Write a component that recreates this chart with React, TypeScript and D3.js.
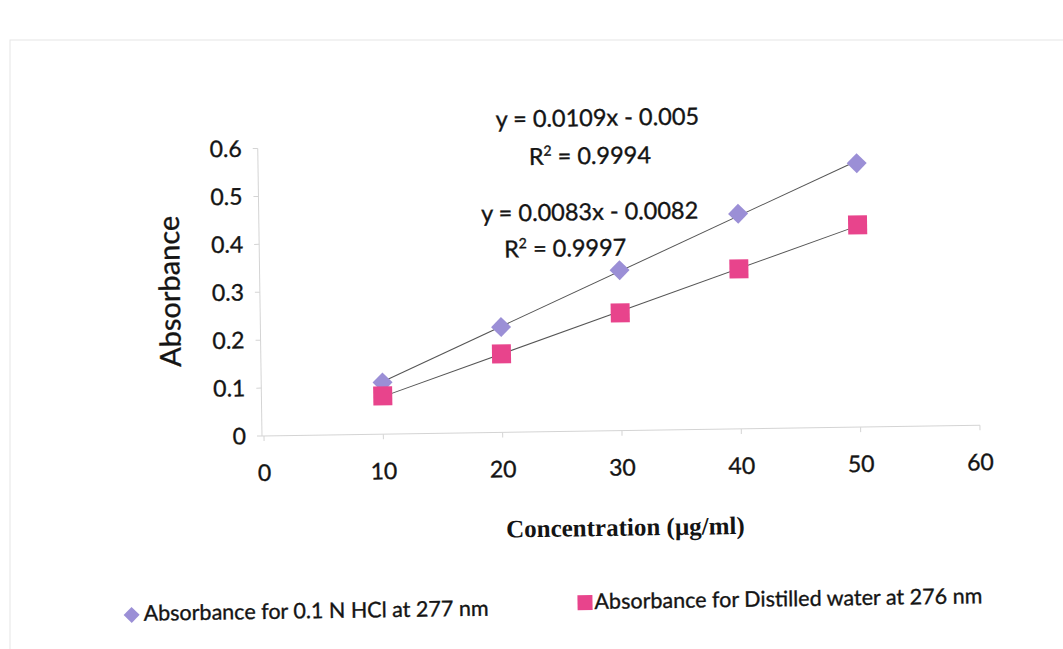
import React from "react";
import * as d3 from "d3";

const concentrations = [10, 20, 30, 40, 50];
const hclValues = [0.108, 0.22, 0.335, 0.449, 0.551];
const waterValues = [0.08, 0.164, 0.246, 0.334, 0.422];
const xTicks = [0, 10, 20, 30, 40, 50, 60];
const yTicks = [0, 0.1, 0.2, 0.3, 0.4, 0.5, 0.6];
const hclLabel = "Absorbance for 0.1 N HCl at 277 nm";
const waterLabel = "Absorbance for Distilled water at 276 nm";
const hclEq = "y = 0.0109x - 0.005";
const hclR2 = "0.9994";
const waterEq = "y = 0.0083x - 0.0082";
const waterR2 = "0.9997";
const xTitle = "Concentration (µg/ml)";
const yTitle = "Absorbance";

const HCL_COLOR = "#9b8fd6";
const WATER_COLOR = "#e8448c";
const FONT = "Lato, 'Open Sans', sans-serif";
const INK = "#141414";

function fit(xs: number[], ys: number[]) {
  const mx = d3.mean(xs)!;
  const my = d3.mean(ys)!;
  let num = 0, den = 0;
  xs.forEach((x, i) => { num += (x - mx) * (ys[i] - my); den += (x - mx) ** 2; });
  const m = num / den;
  return { m, b: my - m * mx };
}

function diamondPath(r: number) {
  const p = d3.path();
  p.moveTo(0, -r); p.lineTo(r, 0); p.lineTo(0, r); p.lineTo(-r, 0); p.closePath();
  return p.toString();
}

export default function App() {
  const W = 1063, H = 649;
  const ox = 262, oy = 436;
  const x = d3.scaleLinear().domain([0, 60]).range([264, 980]);
  const y = d3.scaleLinear().domain([0, 0.6]).range([oy, 148.5]);
  const line = d3.line<[number, number]>().x(d => x(d[0])).y(d => y(d[1]));
  const trend = (vals: number[]) => {
    const { m, b } = fit(concentrations, vals);
    const x0 = concentrations[0], x1 = concentrations[concentrations.length - 1];
    return line([[x0, m * x0 + b], [x1, m * x1 + b]] as [number, number][])!;
  };
  const sq = 19;
  const txt = { fontFamily: FONT, fill: INK, stroke: INK, strokeWidth: 0.35 } as const;
  return (
    <svg width={W} height={H} style={{ position: "absolute", left: 0, top: 0, background: "#fff" }}>
      <rect x={10} y={40} width={1060} height={620} fill="none" stroke="#e6e6e6" strokeWidth={1} />
      <g transform={`rotate(-0.85, ${ox}, ${oy})`}>
        <line x1={ox} x2={ox} y1={y(0.6)} y2={oy} stroke="#d4d4d4" strokeWidth={1} />
        <line x1={ox} x2={x(60)} y1={oy} y2={oy} stroke="#d4d4d4" strokeWidth={1} />
        {yTicks.map(t => (
          <line key={"yt" + t} x1={ox - 5} x2={ox} y1={y(t)} y2={y(t)} stroke="#d4d4d4" />
        ))}
        {xTicks.map(t => (
          <line key={"xt" + t} x1={x(t)} x2={x(t)} y1={oy} y2={oy + 5} stroke="#d4d4d4" />
        ))}
        {yTicks.map(t => (
          <text key={"yl" + t} x={246} y={y(t) + 8} textAnchor="end" fontSize={23} {...txt}>
            {t === 0 ? "0" : t.toFixed(1)}
          </text>
        ))}
        {xTicks.map(t => (
          <text key={"xl" + t} x={x(t)} y={481} textAnchor="middle" fontSize={23} {...txt}>
            {t}
          </text>
        ))}
        <text transform={`translate(182, 290) rotate(-90)`} textAnchor="middle" fontSize={29} {...txt}>
          {yTitle}
        </text>
        <text x={624} y={541} textAnchor="middle" fontFamily="'Liberation Serif', 'Times New Roman', serif" fontWeight="bold" fontSize={25} fill={INK}>
          {xTitle}
        </text>
        <path d={trend(hclValues)} stroke="#555" strokeWidth={1} fill="none" />
        <path d={trend(waterValues)} stroke="#555" strokeWidth={1} fill="none" />
        {concentrations.map((c, i) => (
          <path key={"d" + c} d={diamondPath(10)} transform={`translate(${x(c)},${y(hclValues[i])})`} fill={HCL_COLOR} />
        ))}
        {concentrations.map((c, i) => (
          <rect key={"s" + c} x={x(c) - sq / 2} y={y(waterValues[i]) - sq / 2} width={sq} height={sq} fill={WATER_COLOR} />
        ))}
        <text x={602} y={131} textAnchor="middle" fontSize={23.5} {...txt}>{hclEq}</text>
        <text x={594} y={169} textAnchor="middle" fontSize={23.5} {...txt}>
          R<tspan dy={-9} fontSize={14}>2</tspan><tspan dy={9}>{" = " + hclR2}</tspan>
        </text>
        <text x={593} y={225} textAnchor="middle" fontSize={23.5} {...txt}>{waterEq}</text>
        <text x={568} y={261} textAnchor="middle" fontSize={23.5} {...txt}>
          R<tspan dy={-9} fontSize={14}>2</tspan><tspan dy={9}>{" = " + waterR2}</tspan>
        </text>
        <path d={diamondPath(8)} transform="translate(129, 613)" fill={HCL_COLOR} />
        <text x={141} y={619} fontSize={21.5} {...txt}>{hclLabel}</text>
        <rect x={575} y={600} width={15} height={15} fill={WATER_COLOR} />
        <text x={592} y={614} fontSize={21.5} {...txt}>{waterLabel}</text>
      </g>
    </svg>
  );
}
